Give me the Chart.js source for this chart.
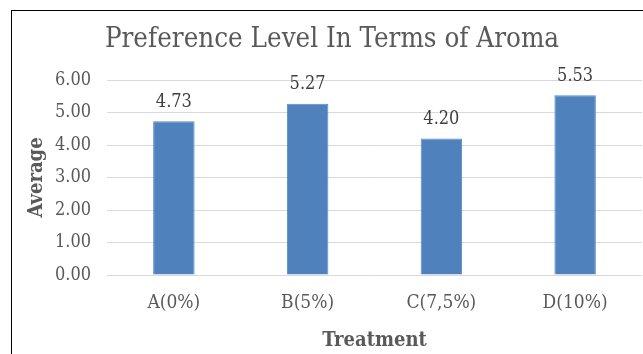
<!DOCTYPE html>
<html>
<head>
<meta charset="utf-8">
<script src="https://cdn.jsdelivr.net/npm/chart.js@4.4.1/dist/chart.umd.min.js"></script>
<style>
  html, body { margin: 0; padding: 0; background: #fff; }
  #wrap { position: relative; width: 643px; height: 354px; overflow: hidden; }
  #frame { position: absolute; left: 11px; top: 10px; right: -4px; bottom: -4px;
           border-top: 1px solid #000; border-left: 1px solid #000; pointer-events: none; }
  canvas { display: block; }
</style>
</head>
<body>
<div id="wrap">
  <canvas id="chart" width="643" height="354"></canvas>
  <div id="frame"></div>
</div>
<script>
// Treatments and their average aroma preference scores
const categories = ['A(0%)', 'B(5%)', 'C(7,5%)', 'D(10%)'];
const averages = [4.73, 5.27, 4.20, 5.53];
const yTicks = [0, 1, 2, 3, 4, 5, 6];

const titleText = 'Preference Level In Terms of Aroma';
const yTitle = 'Average';
const xTitle = 'Treatment';

const FAMILY = "'DejaVu Serif Condensed', 'DejaVu Serif', serif";
const TEXT = '#595959';

// Writes each bar's value above it
const valueLabels = {
  id: 'valueLabels',
  afterDatasetsDraw(chart) {
    const ctx = chart.ctx;
    const meta = chart.getDatasetMeta(0);
    const data = chart.data.datasets[0].data;
    ctx.save();
    ctx.font = "18px " + FAMILY;
    ctx.fillStyle = '#404040';
    ctx.textAlign = 'center';
    ctx.textBaseline = 'middle';
    meta.data.forEach((bar, i) => {
      ctx.fillText(data[i].toFixed(2), bar.x, bar.y - 19);
    });
    ctx.restore();
  }
};

new Chart(document.getElementById('chart'), {
  type: 'bar',
  data: {
    labels: categories,
    datasets: [{
      data: averages,
      backgroundColor: '#4f81bd',
      borderColor: '#5a8ac4',
      borderWidth: 1,
      categoryPercentage: 1,
      barPercentage: 0.31
    }]
  },
  options: {
    responsive: false,
    animation: false,
    devicePixelRatio: 1,
    layout: { padding: { left: 22, right: 1, top: 0, bottom: 0 } },
    plugins: {
      legend: { display: false },
      tooltip: { enabled: false },
      title: {
        display: true,
        text: titleText,
        color: TEXT,
        font: { family: FAMILY, size: 27.5, weight: 'normal', lineHeight: 1.2 },
        padding: { top: 23.5, bottom: 23.5 }
      }
    },
    scales: {
      x: {
        grid: { display: false },
        border: { display: false },
        ticks: {
          color: TEXT,
          padding: 9,
          font: { family: FAMILY, size: 19 }
        },
        title: {
          display: true,
          text: xTitle,
          color: TEXT,
          font: { family: FAMILY, size: 20, weight: 'bold', lineHeight: 1.2 },
          padding: { top: 0, bottom: 1 }
        },
        afterFit(scale) { scale.height = 79; }
      },
      y: {
        min: 0,
        max: 6,
        afterBuildTicks(scale) { scale.ticks = yTicks.map(v => ({ value: v })); },
        grid: { color: '#d9d9d9', lineWidth: 1, drawTicks: false },
        border: { display: false },
        ticks: {
          color: TEXT,
          padding: 16,
          font: { family: FAMILY, size: 18 },
          callback: v => Number(v).toFixed(2)
        },
        title: {
          display: true,
          text: yTitle,
          color: TEXT,
          font: { family: FAMILY, size: 20, weight: 'bold', lineHeight: 1.2 },
          padding: { top: 3, bottom: 0 }
        },
        afterFit(scale) { scale.width = 85; }
      }
    }
  },
  plugins: [valueLabels]
});
</script>
</body>
</html>
